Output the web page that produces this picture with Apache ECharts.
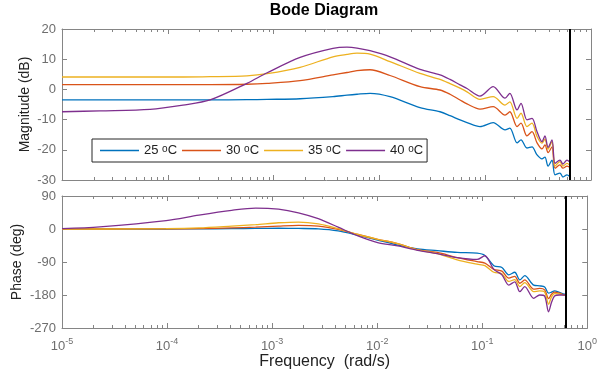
<!DOCTYPE html>
<html>
<head>
<meta charset="utf-8">
<script src="https://cdn.jsdelivr.net/npm/echarts@6/dist/echarts.min.js"></script>
<style>
  html, body { margin: 0; padding: 0; background: #fff; }
  #chart { width: 600px; height: 378px; }
</style>
</head>
<body>
<div id="chart"></div>
<script>
// series names
const temps = ['25 °C', '30 °C', '35 °C', '40 °C'];
const colors = ['#0072BD', '#D95319', '#EDB120', '#7E2F8E'];

// magnitude (dB) vs frequency (rad/s)
const magFreq = [1e-5, 2.29e-5, 6.8e-5, 1.39e-4, 2.51e-4, 5.6e-4, 8.7e-4, 1.78e-3, 3.64e-3, 4.94e-3,
  6.14e-3, 8.15e-3, 0.0126, 0.0242, 0.0374, 0.0465, 0.0578, 0.0673, 0.0893, 0.119,
  0.154, 0.171, 0.200, 0.218, 0.248, 0.277, 0.309, 0.344, 0.367, 0.393,
  0.428, 0.457, 0.509, 0.543, 0.593, 0.628];
const mag25 = [-3.5, -3.5, -3.5, -3.5, -3.5, -3.4, -3.3, -3.1, -2.4, -1.9,
  -1.6, -1.3, -2.4, -6.0, -7.4, -8.7, -10.1, -11.0, -12.3, -11.0,
  -13.4, -12.8, -17.7, -16.7, -19.4, -19.0, -21.7, -23.0, -22.4, -25.4,
  -23.4, -28.3, -27.7, -29.0, -28.3, -28.8];
const mag30 = [1.6, 1.6, 1.6, 1.6, 1.6, 1.7, 2.0, 2.9, 4.8, 5.6,
  6.2, 6.5, 4.6, 0.9, -0.2, -1.6, -3.5, -4.8, -6.5, -5.7,
  -8.5, -7.4, -12.3, -11.2, -15.4, -14.0, -17.7, -19.7, -18.4, -20.9,
  -19.0, -26.1, -25.0, -26.1, -25.4, -25.8];
const mag35 = [4.1, 4.1, 4.1, 4.1, 4.2, 4.5, 5.2, 7.3, 10.8, 11.6,
  12.0, 11.7, 9.2, 5.3, 3.3, 1.9, 0.4, -0.8, -3.3, -2.4,
  -5.2, -4.1, -9.6, -7.9, -12.3, -11.2, -15.6, -17.8, -16.5, -19.8,
  -17.3, -25.4, -23.9, -25.4, -24.5, -25.0];
const mag40 = [-7.4, -7.1, -6.6, -5.2, -3.5, 2.0, 5.5, 10.6, 13.6, 14.0,
  13.7, 12.8, 10.8, 6.6, 4.8, 3.3, 1.5, 0.3, -2.2, 0.9,
  -2.9, -1.3, -6.8, -4.6, -10.1, -9.6, -14.0, -17.3, -15.4, -19.2,
  -16.7, -24.5, -23.4, -24.7, -23.4, -24.0];

// phase (deg) vs frequency (rad/s)
const phaseFreq = [1e-5, 2.29e-5, 9.8e-5, 2.01e-4, 4.13e-4, 6.97e-4, 1.15e-3, 1.78e-3, 2.75e-3, 4.25e-3,
  6.56e-3, 0.0101, 0.0157, 0.0242, 0.0374, 0.0578, 0.0893, 0.106, 0.129, 0.154,
  0.179, 0.204, 0.228, 0.254, 0.309, 0.352, 0.393, 0.428, 0.457, 0.488,
  0.543, 0.607, 0.628];
const phase25 = [0, 0, 0, 0.5, 1, 1.5, 2, 1.5, 0.5, -5,
  -17, -30, -44, -54, -59, -64, -66, -72, -100, -105,
  -125, -118, -139, -127, -153, -155, -158, -175, -172, -169,
  -173, -178, -177];
const phase30 = [0, 0, 0.5, 1, 3, 5, 8, 10, 8, -1,
  -15, -28, -40, -56, -64, -78, -89, -93, -110, -115,
  -134, -129, -148, -139, -164, -162, -166, -190, -178, -172,
  -175, -180, -179];
const phase35 = [0, 0, 1, 3, 8, 12, 17, 19, 14, 1,
  -15, -28, -40, -57, -67, -84, -96, -100, -118, -122,
  -143, -138, -157, -146, -171, -169, -172, -205, -185, -176,
  -177, -180, -179];
const phase40 = [1, 6, 23, 38, 51, 57, 54, 44, 28, 5,
  -19, -37, -46, -58, -67, -78, -83, -73, -110, -125,
  -153, -144, -171, -157, -189, -180, -183, -226, -200, -183,
  -180, -180, -179];

const decades = [1e-5, 1e-4, 1e-3, 1e-2, 1e-1, 1];
const nyquist = 0.6283;

// minor ticks at 2..9 per decade, placed on a hidden linear axis in log10 units
const minorTicks = [];
decades.slice(0, -1).forEach(d => {
  for (let k = 2; k <= 9; k++) minorTicks.push(Math.log10(d * k));
});

const axisGray = '#858585';
const labelGray = '#6e6e6e';
const font = 'Liberation Sans, Arial, Helvetica, sans-serif';

const chart = echarts.init(document.getElementById('chart'), null, { renderer: 'canvas' });

function xAx(grid, pos, extra) {
  return Object.assign({
    type: 'log', logBase: 10, gridIndex: grid, position: pos,
    min: 1e-5, max: 1,
    axisLine: { show: true, onZero: false, lineStyle: { color: axisGray, width: 1 } },
    axisTick: { show: true, inside: true, length: 5, customValues: decades,
      lineStyle: { color: axisGray } },
    axisLabel: { show: false },
    splitLine: { show: false },
    minorTick: { show: false }
  }, extra || {});
}

function xMinor(grid, pos) {
  return {
    type: 'value', gridIndex: grid, position: pos,
    min: -5, max: 0,
    axisLine: { show: false, onZero: false },
    axisTick: { show: true, inside: true, length: 3, customValues: minorTicks,
      lineStyle: { color: axisGray } },
    axisLabel: { show: false },
    splitLine: { show: false }
  };
}

function yAx(grid, pos, min, max, step, extra) {
  return Object.assign({
    type: 'value', gridIndex: grid, position: pos,
    min: min, max: max, interval: step,
    axisLine: { show: true, onZero: false, lineStyle: { color: axisGray, width: 1 } },
    axisTick: { show: true, inside: true, length: 5, lineStyle: { color: axisGray } },
    axisLabel: { show: false },
    splitLine: { show: false }
  }, extra || {});
}

const yLabel = { show: true, color: labelGray, fontSize: 13, fontFamily: font, margin: 6 };

function pairs(fr, vals) {
  return fr.map((f, i) => [f, vals[i]]);
}

function line(name, idx, xi, yi, data, withMark) {
  const s = {
    name: name, type: 'line', xAxisIndex: xi, yAxisIndex: yi,
    data: data, showSymbol: false, symbol: 'none',
    smooth: 0.3,
    lineStyle: { color: colors[idx], width: 1.3 },
    itemStyle: { color: colors[idx] },
    z: 3
  };
  if (withMark) {
    s.markLine = {
      silent: true, symbol: ['none', 'none'], label: { show: false },
      lineStyle: { color: '#000', width: 2, type: 'solid' },
      data: [{ xAxis: nyquist }],
      z: 10
    };
  }
  return s;
}

const mags = [mag25, mag30, mag35, mag40];
const phases = [phase25, phase30, phase35, phase40];
const series = [];
temps.forEach((t, i) => series.push(line(t, i, 0, 0, pairs(magFreq, mags[i]), i === 0)));
temps.forEach((t, i) => series.push(line(t, i, 4, 2, pairs(phaseFreq, phases[i]), i === 0)));

chart.setOption({
  animation: false,
  backgroundColor: '#fff',
  title: {
    text: 'Bode Diagram', left: 324, top: 3, textAlign: 'center', padding: 0,
    textStyle: { fontSize: 16, fontWeight: 'bold', color: '#000', fontFamily: font }
  },
  legend: {
    data: temps.map(t => ({ name: t, icon: 'rect' })),
    left: 92, top: 139,
    padding: [5, 4, 5, 8],
    itemGap: 5, itemWidth: 39, itemHeight: 1.5,
    borderColor: '#262626', borderWidth: 1, borderRadius: 0,
    backgroundColor: '#fff',
    formatter: n => n.replace(' °C', ' {s|o}C'),
    textStyle: {
      fontSize: 13, color: '#222', fontFamily: font,
      rich: { s: { fontSize: 10, verticalAlign: 'top', lineHeight: 10, color: '#222', fontFamily: font } }
    },
    selectedMode: false
  },
  grid: [
    { left: 62, right: 9, top: 29, height: 151 },
    { left: 62, right: 9, top: 196, height: 132 }
  ],
  xAxis: [
    xAx(0, 'bottom'),
    xMinor(0, 'bottom'),
    xAx(0, 'top'),
    xMinor(0, 'top'),
    xAx(1, 'bottom', {
      name: 'Frequency  (rad/s)', nameLocation: 'middle', nameGap: 26, nameMoveOverlap: false,
      nameTextStyle: { fontSize: 16, color: '#222', fontFamily: font },
      axisLabel: {
        show: true, margin: 9, customValues: decades,
        formatter: v => '{a|10}{b|' + Math.round(Math.log10(v)) + '}',
        rich: {
          a: { fontSize: 13, color: labelGray, fontFamily: font, lineHeight: 16, verticalAlign: 'bottom' },
          b: { fontSize: 9, color: labelGray, fontFamily: font, lineHeight: 9, verticalAlign: 'top' }
        }
      }
    }),
    xMinor(1, 'bottom'),
    xAx(1, 'top'),
    xMinor(1, 'top')
  ],
  yAxis: [
    yAx(0, 'left', -30, 20, 10, {
      axisLabel: yLabel,
      name: 'Magnitude (dB)', nameLocation: 'middle', nameGap: 30, nameMoveOverlap: false,
      nameTextStyle: { fontSize: 14, color: '#222', fontFamily: font }
    }),
    yAx(0, 'right', -30, 20, 10),
    yAx(1, 'left', -270, 90, 90, {
      axisLabel: yLabel,
      name: 'Phase (deg)', nameLocation: 'middle', nameGap: 38, nameMoveOverlap: false,
      nameTextStyle: { fontSize: 14, color: '#222', fontFamily: font }
    }),
    yAx(1, 'right', -270, 90, 90)
  ],
  series: series
});
</script>
</body>
</html>
